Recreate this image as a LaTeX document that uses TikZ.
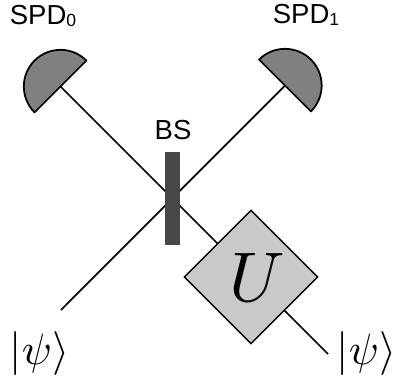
\documentclass[tikz,border=0pt]{standalone}
\usepackage{amsmath}
\usepackage{fontspec}
\setmainfont{Liberation Sans}
\usepackage{tikz}
\usetikzlibrary{shapes.geometric}
\newcommand{\spdlabel}[1]{SPD{\fontsize{15}{16}\selectfont\raisebox{-1.3pt}{#1}}}
\newcommand{\ketpsi}{\scalebox{3.75}{$|\psi\rangle$}}
\tikzset{
  beam/.style={line width=1.5pt},
  detector/.style={draw=black,fill=black!50,line width=1.5pt,line join=round},
  splitter/.style={draw=none,fill=black!72,minimum width=0.45cm,minimum height=2.79cm,inner sep=0pt},
  unitary/.style={diamond,aspect=1,draw=black,fill=black!21,line width=1.2pt,minimum width=4.02cm,minimum height=4.02cm,inner sep=0pt},
  txt/.style={inner sep=0pt,font=\fontsize{23.5}{25}\selectfont},
  ket/.style={inner sep=0pt}
}
\begin{document}
\begin{tikzpicture}[x=0.03cm,y=0.03cm]
        \useasboundingbox (0,0) rectangle (395,384);
        \coordinate (det0) at (60.5,297.5);
        \coordinate (det1) at (285,298.5);
        \coordinate (in) at (61,74);
        \coordinate (out) at (328,30);
        \draw[beam] (det0)--(out);
        \draw[beam] (det1)--(in);
        \draw[detector] (det0) ++(45:1.1cm) arc (45:225:1.1cm) -- cycle;
        \draw[detector] (det1) ++(135:1.1cm) arc (135:-45:1.1cm) -- cycle;
        \node[splitter] (bs) at (172.5,185.5){};
        \node[unitary] (u) at (251,107){};
        \node[ket] (ulabel) at (257,107){\scalebox{6}{$U$}};
        \node[txt] (spd0) at (43,368){\spdlabel{0}};
        \node[txt] (spd1) at (306,369){\spdlabel{1}};
        \node[txt] (bslabel) at (173,253.5){BS};
        \node[ket] (ket0) at (39.5,30){\ketpsi};
        \node[ket] (ket1) at (366.5,30){\ketpsi};
\end{tikzpicture}
\end{document}
